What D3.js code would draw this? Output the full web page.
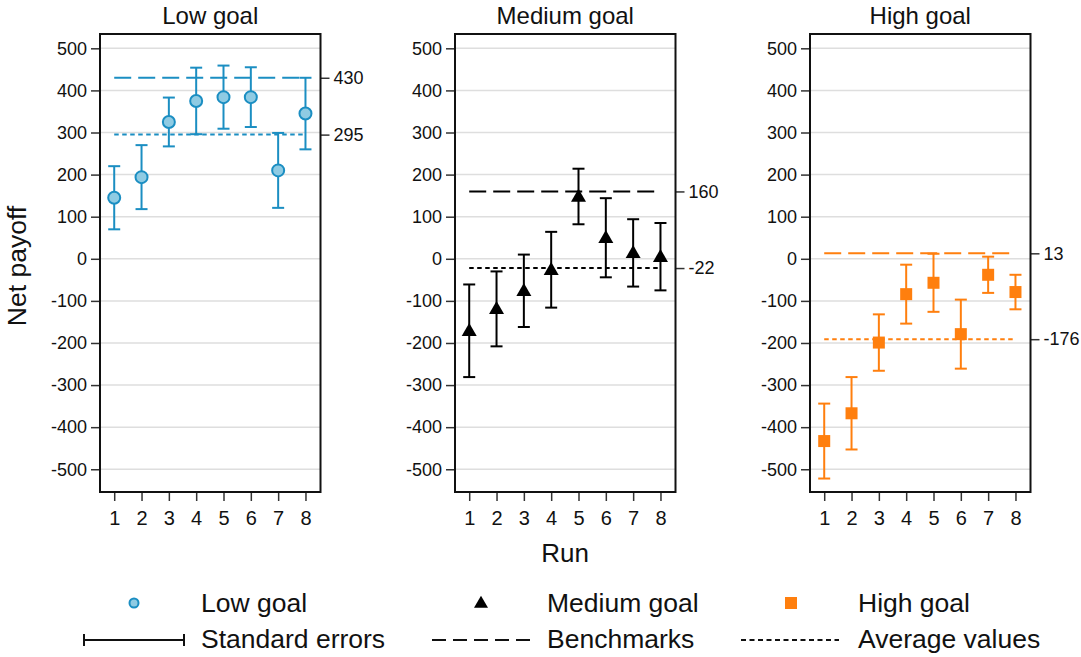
<!DOCTYPE html>
<html>
<head>
<meta charset="utf-8">
<script src="https://cdn.jsdelivr.net/npm/d3@7"></script>
<style>
  html, body { margin: 0; padding: 0; background: #fff; }
  svg { display: block; font-family: "Liberation Sans", Arial, Helvetica, sans-serif; }
</style>
</head>
<body>
<svg id="chart" width="1081" height="657"></svg>
<script>
// ---- data ----
const runs = [1, 2, 3, 4, 5, 6, 7, 8];
const panelTitles = ["Low goal", "Medium goal", "High goal"];
const lowMean  = [145, 194, 325, 375, 384, 384, 210, 345];
const lowSE    = [75, 76, 58, 79, 75, 71, 89, 85];
const medMean  = [-171, -119, -76, -26, 148, 50, 14, 5];
const medSE    = [110, 89, 86, 90, 66, 94, 80, 80];
const highMean = [-433, -367, -199, -84, -57, -179, -38, -79];
const highSE   = [89, 86, 67, 70, 69, 82, 43, 41];
const benchmarks = [430, 160, 13];
const benchmarkLabels = ["430", "160", "13"];
const averages = [295, -22, -191];
const averageLabels = ["295", "-22", "-176"];
const yTicks = [-500, -400, -300, -200, -100, 0, 100, 200, 300, 400, 500];
const legendLabels = ["Low goal", "Medium goal", "High goal", "Standard errors", "Benchmarks", "Average values"];

const means = [lowMean, medMean, highMean];
const ses = [lowSE, medSE, highSE];
const colors = ["#1b8ec2", "#000000", "#ff7f0e"];
const fills = ["#8fcbe3", "#000000", "#ff7f0e"];
const markerTypes = ["circle", "triangle", "square"];

// ---- layout ----
const svg = d3.select("#chart");
const FONT = "'Liberation Sans', Arial, Helvetica, sans-serif";
const panelLeft = [100, 455, 810];
const panelW = 220.5;
const plotTop = 34, plotBottom = 492;

const y = d3.scaleLinear().domain([-554, 534]).range([plotBottom, plotTop]);

function marker(g, type, cx, cy, color, fill, big) {
  if (type === "circle") {
    g.append("circle").attr("cx", cx).attr("cy", cy).attr("r", big ? 6 : 4.5)
      .attr("fill", fill).attr("stroke", color).attr("stroke-width", 2);
  } else if (type === "triangle") {
    const w = big ? 15 : 14, h = big ? 13 : 12;
    g.append("path")
      .attr("d", `M${cx},${cy - h * 0.6}L${cx + w / 2},${cy + h * 0.4}L${cx - w / 2},${cy + h * 0.4}Z`)
      .attr("fill", fill);
  } else {
    const s = 12;
    g.append("rect").attr("x", cx - s / 2).attr("y", cy - s / 2).attr("width", s).attr("height", s)
      .attr("fill", fill);
  }
}

for (let p = 0; p < 3; p++) {
  const L = panelLeft[p];
  const x = d3.scaleLinear().domain([0.48, 8.55]).range([L, L + panelW]);
  const g = svg.append("g");

  // gridlines
  g.selectAll(".grid").data(yTicks).enter().append("line")
    .attr("x1", L).attr("x2", L + panelW)
    .attr("y1", d => y(d)).attr("y2", d => y(d))
    .attr("stroke", "#dedede").attr("stroke-width", 1.5);

  // left axis
  const yAxis = d3.axisLeft(y).tickValues(yTicks).tickSize(9).tickPadding(4).tickFormat(d => String(d));
  const ya = g.append("g").attr("transform", `translate(${L},0)`).call(yAxis);
  ya.select(".domain").remove();
  ya.selectAll("line").attr("stroke", "#333").attr("stroke-width", 1.5);
  ya.selectAll("text").attr("font-size", 18).attr("font-family", FONT).attr("fill", "#111");

  // bottom axis
  const xAxis = d3.axisBottom(x).tickValues(runs).tickSize(9).tickPadding(10).tickFormat(d => String(d));
  const xa = g.append("g").attr("transform", `translate(0,${plotBottom})`).call(xAxis);
  xa.select(".domain").remove();
  xa.selectAll("line").attr("stroke", "#333").attr("stroke-width", 1.5);
  xa.selectAll("text").attr("font-size", 20).attr("font-family", FONT).attr("fill", "#111");

  // right axis (benchmark and average)
  const rVals = [benchmarks[p], averages[p]];
  const rLabs = [benchmarkLabels[p], averageLabels[p]];
  const rAxis = d3.axisRight(y).tickValues(rVals).tickSize(9).tickPadding(4)
    .tickFormat((d, i) => rLabs[i]);
  const ra = g.append("g").attr("transform", `translate(${L + panelW},0)`).call(rAxis);
  ra.select(".domain").remove();
  ra.selectAll("line").attr("stroke", "#333").attr("stroke-width", 1.5);
  ra.selectAll("text").attr("font-size", 18).attr("font-family", FONT).attr("fill", "#111");

  // frame
  g.append("rect").attr("x", L).attr("y", plotTop).attr("width", panelW).attr("height", plotBottom - plotTop)
    .attr("fill", "none").attr("stroke", "#111").attr("stroke-width", 2);

  // title
  g.append("text").attr("x", L + panelW / 2).attr("y", 24).attr("text-anchor", "middle")
    .attr("font-size", 24).attr("font-family", FONT).attr("fill", "#111").text(panelTitles[p]);

  // benchmark & average lines
  g.append("line").attr("x1", x(1)).attr("x2", x(8))
    .attr("y1", y(benchmarks[p])).attr("y2", y(benchmarks[p]))
    .attr("stroke", colors[p]).attr("stroke-width", 2).attr("stroke-dasharray", "17,7");
  g.append("line").attr("x1", x(1)).attr("x2", x(8))
    .attr("y1", y(averages[p])).attr("y2", y(averages[p]))
    .attr("stroke", colors[p]).attr("stroke-width", 2).attr("stroke-dasharray", "4.5,3.5");

  // error bars
  const m = means[p], s = ses[p];
  runs.forEach((r, i) => {
    const cx = x(r);
    const y1 = y(m[i] + s[i]), y2 = y(m[i] - s[i]);
    g.append("line").attr("x1", cx).attr("x2", cx).attr("y1", y1).attr("y2", y2)
      .attr("stroke", colors[p]).attr("stroke-width", 2);
    [y1, y2].forEach(yy => g.append("line").attr("x1", cx - 6).attr("x2", cx + 6)
      .attr("y1", yy).attr("y2", yy).attr("stroke", colors[p]).attr("stroke-width", 2));
  });
  runs.forEach((r, i) => marker(g, markerTypes[p], x(r), y(m[i]), colors[p], fills[p], true));
}

// axis titles
svg.append("text").attr("transform", "translate(26,266) rotate(-90)").attr("text-anchor", "middle")
  .attr("font-size", 26.5).attr("font-family", FONT).attr("fill", "#111").text("Net payoff");
svg.append("text").attr("x", 565).attr("y", 562).attr("text-anchor", "middle")
  .attr("font-size", 26).attr("font-family", FONT).attr("fill", "#111").text("Run");

// legend
const lg = svg.append("g");
const legX = [134, 481, 791];
const textX = [201, 547, 858];
for (let p = 0; p < 3; p++) {
  marker(lg, markerTypes[p], legX[p], 603, colors[p], fills[p], false);
  lg.append("text").attr("x", textX[p]).attr("y", 612).attr("font-size", 26.5)
    .attr("font-family", FONT).attr("fill", "#111").text(legendLabels[p]);
}
lg.append("line").attr("x1", 84).attr("x2", 184).attr("y1", 640).attr("y2", 640).attr("stroke", "#111").attr("stroke-width", 2);
[84, 184].forEach(xx => lg.append("line").attr("x1", xx).attr("x2", xx).attr("y1", 634).attr("y2", 646).attr("stroke", "#111").attr("stroke-width", 2));
lg.append("line").attr("x1", 432).attr("x2", 531).attr("y1", 640).attr("y2", 640).attr("stroke", "#111").attr("stroke-width", 2).attr("stroke-dasharray", "14,7");
lg.append("line").attr("x1", 741).attr("x2", 839).attr("y1", 640).attr("y2", 640).attr("stroke", "#111").attr("stroke-width", 2).attr("stroke-dasharray", "5,3.5");
for (let k = 0; k < 3; k++) {
  lg.append("text").attr("x", textX[k]).attr("y", 648).attr("font-size", 26.5)
    .attr("font-family", FONT).attr("fill", "#111").text(legendLabels[3 + k]);
}
</script>
</body>
</html>
